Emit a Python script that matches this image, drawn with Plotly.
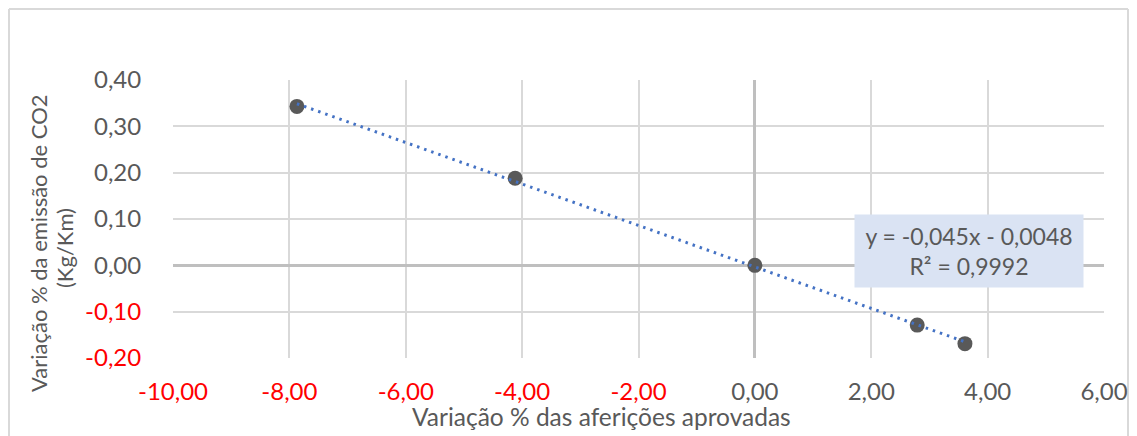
import numpy as np
import plotly.graph_objects as go

# Data
x_vals = [-7.87, -4.12, 0.0, 2.79, 3.61]
y_vals = [0.343, 0.188, 0.0, -0.129, -0.169]

x_ticks = [-10, -8, -6, -4, -2, 0, 2, 4, 6]
x_ticklabels = ["-10,00", "-8,00", "-6,00", "-4,00", "-2,00", "0,00", "2,00", "4,00", "6,00"]
y_ticks = [-0.2, -0.1, 0.0, 0.1, 0.2, 0.3, 0.4]
y_ticklabels = ["-0,20", "-0,10", "0,00", "0,10", "0,20", "0,30", "0,40"]

equation_text = "y = -0,045x - 0,0048<br>R² = 0,9992"
x_title = "Variação % das aferições aprovadas"
y_title_lines = ["Variação % da emissão de CO2", "(Kg/Km)"]

FONT = "Lato"
GRAY = "#595959"
RED = "#FF0000"


def color_label(v, t):
    c = RED if v < 0 else GRAY
    return f'<span style="color:{c}">{t}</span>'


slope, intercept = np.polyfit(x_vals, y_vals, 1)
tx = np.array([min(x_vals), max(x_vals)])
ty = slope * tx + intercept

fig = go.Figure()
fig.add_trace(go.Scatter(
    x=x_vals, y=y_vals, mode="markers",
    marker=dict(color="#595959", size=15),
    showlegend=False,
))
fig.add_trace(go.Scatter(
    x=tx, y=ty, mode="lines",
    line=dict(color="#4472C4", width=3, dash="2.5px,5px"),
    hoverinfo="skip", showlegend=False,
))

# the page body has an 8px margin; figure coordinates = page coordinates - 8
OFF = 8
W, H = 1137 - 2 * OFF, 436 - OFF
L = 173 - OFF
T = 80 - OFF
R = W - (1104 - OFF)
B = H - (358 - OFF)
pw, ph = W - L - R, H - T - B


def px(pxv):
    return (pxv - OFF - L) / pw


def py(pyv):
    return (H - B - (pyv - OFF)) / ph


border = dict(color="#D9D9D9", width=2)
bx0, bx1 = -L / pw + 1 / pw, (W - L - 1) / pw
by1 = (H - B - 1) / ph
by0 = -B / ph - 0.05

fig.update_layout(
    width=W, height=H,
    margin=dict(l=L, r=R, t=T, b=B, autoexpand=False),
    paper_bgcolor="white", plot_bgcolor="white",
    font=dict(family=FONT, size=24, color=GRAY),
    xaxis=dict(
        range=[-10, 6], tickvals=x_ticks,
        ticktext=[color_label(v, t) for v, t in zip(x_ticks, x_ticklabels)],
        showgrid=True, gridcolor="#D9D9D9", gridwidth=2,
        zeroline=True, zerolinecolor="#BFBFBF", zerolinewidth=2.5,
        showline=False, ticks="outside", ticklen=12, tickcolor="rgba(0,0,0,0)",
        tickfont=dict(size=24), automargin=False,
    ),
    yaxis=dict(
        range=[-0.2, 0.4], tickvals=y_ticks,
        ticktext=[color_label(v, t) for v, t in zip(y_ticks, y_ticklabels)],
        showgrid=True, gridcolor="#D9D9D9", gridwidth=2,
        zeroline=True, zerolinecolor="#BFBFBF", zerolinewidth=2.5,
        showline=False, ticks="outside", ticklen=26, tickcolor="rgba(0,0,0,0)",
        tickfont=dict(size=24), automargin=False,
    ),
    shapes=[
        dict(type="line", xref="paper", yref="paper", x0=bx0, x1=bx1, y0=by1, y1=by1,
             line=border, layer="below"),
        dict(type="line", xref="paper", yref="paper", x0=bx0, x1=bx0, y0=by0, y1=by1,
             line=border, layer="below"),
        dict(type="line", xref="paper", yref="paper", x0=bx1, x1=bx1, y0=by0, y1=by1,
             line=border, layer="below"),
    ],
    annotations=[
        dict(text=x_title, xref="paper", yref="paper",
             x=px(601), y=py(416),
             xanchor="center", yanchor="middle", showarrow=False,
             font=dict(size=24.5, color=GRAY, family=FONT)),
        dict(text=y_title_lines[0], xref="paper", yref="paper",
             x=px(38), y=py(243),
             xanchor="center", yanchor="middle", showarrow=False,
             textangle=-90,
             font=dict(size=22, color=GRAY, family=FONT)),
        dict(text=y_title_lines[1], xref="paper", yref="paper",
             x=px(64), y=py(248),
             xanchor="center", yanchor="middle", showarrow=False,
             textangle=-90,
             font=dict(size=22, color=GRAY, family=FONT)),
        dict(text=equation_text, xref="paper", yref="paper",
             x=px(969), y=py(251),
             xanchor="center", yanchor="middle", showarrow=False,
             bgcolor="#DAE3F3", width=222, height=66, borderpad=3,
             font=dict(size=23, color=GRAY, family=FONT)),
    ],
)

fig.write_html("out.html")
